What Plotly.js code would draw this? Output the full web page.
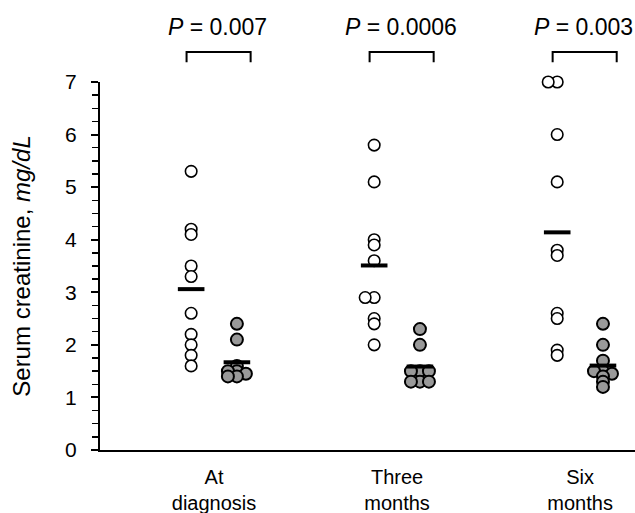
<!DOCTYPE html>
<html><head><meta charset="utf-8">
<script src="https://cdn.plot.ly/plotly-3.0.1.min.js"></script>
<style>body{margin:0;background:#fff}</style>
</head><body><div id="chart" style="width:635px;height:513px"></div>
<script>
// ---- data ----
const categories = ["At<br>diagnosis", "Three<br>months", "Six<br>months"];
const pValues = ["0.007", "0.0006", "0.003"];
const openAtDiagnosis   = [5.3, 4.2, 4.1, 3.5, 3.3, 2.6, 2.2, 2.0, 1.8, 1.6];
const filledAtDiagnosis = [2.4, 2.1, 1.6, 1.5, 1.5, 1.45, 1.4, 1.4];
const openThreeMonths   = [5.8, 5.1, 4.0, 3.9, 3.6, 2.9, 2.9, 2.5, 2.4, 2.0];
const filledThreeMonths = [2.3, 2.0, 1.5, 1.5, 1.5, 1.3, 1.3, 1.3];
const openSixMonths     = [7.0, 7.0, 6.0, 5.1, 3.8, 3.7, 2.6, 2.5, 1.9, 1.8];
const filledSixMonths   = [2.4, 2.0, 1.7, 1.5, 1.5, 1.45, 1.4, 1.3, 1.2];

const openGroups = [openAtDiagnosis, openThreeMonths, openSixMonths];
const filledGroups = [filledAtDiagnosis, filledThreeMonths, filledSixMonths];

// ---- layout geometry ----
const W = 635, H = 513;
const M = {l: 100, r: 0, t: 82, b: 63};
const xRange = [0.377, 3.30];
const yRange = [0, 7];
const pxPerX = (W - M.l - M.r) / (xRange[1] - xRange[0]);
const pxPerY = (H - M.t - M.b) / (yRange[1] - yRange[0]);
const groupOffset = 0.125;

// simple beeswarm: shift a point sideways only when it nearly coincides with one already placed
function swarm(values, base) {
  const placed = [];
  const D = 4.5, step = 9;
  return values.map(v => {
    const cands = [0];
    for (let k = 1; k < 6; k++) { cands.push(-k * step, k * step); }
    let chosen = 0;
    for (const c of cands) {
      const ok = placed.every(p => Math.hypot(p.x - c, (p.v - v) * pxPerY) >= D);
      if (ok) { chosen = c; break; }
    }
    placed.push({x: chosen, v: v});
    return base + chosen / pxPerX;
  });
}
const mean = a => a.reduce((s, v) => s + v, 0) / a.length;

const traces = [];
openGroups.forEach((vals, i) => {
  traces.push({
    type: 'scatter', mode: 'markers', cliponaxis: false, hoverinfo: 'y',
    x: swarm(vals, i + 1 - groupOffset), y: vals,
    marker: {symbol: 'circle', size: 11.5, color: '#ffffff', line: {color: '#000', width: 1.6}}
  });
});
filledGroups.forEach((vals, i) => {
  traces.push({
    type: 'scatter', mode: 'markers', cliponaxis: false, hoverinfo: 'y',
    x: swarm(vals, i + 1 + groupOffset), y: vals,
    marker: {symbol: 'circle', size: 12, color: '#999999', line: {color: '#000', width: 2}}
  });
});
const meanX = [], meanY = [];
openGroups.forEach((vals, i) => { meanX.push(i + 1 - groupOffset); meanY.push(mean(vals)); });
filledGroups.forEach((vals, i) => { meanX.push(i + 1 + groupOffset); meanY.push(mean(vals)); });
traces.push({
  type: 'scatter', mode: 'markers', cliponaxis: false, hoverinfo: 'y',
  x: meanX, y: meanY,
  marker: {symbol: 'line-ew', size: 19, color: '#000', line: {color: '#000', width: 4}}
});

const font = {family: 'Liberation Sans, Arial, Helvetica, sans-serif', color: '#000'};
const shapes = [], annotations = [];
categories.forEach((c, i) => {
  const x0 = i + 1 - 0.15, x1 = i + 1 + 0.2;
  shapes.push({
    type: 'path', xref: 'x', yref: 'paper',
    path: `M ${x0},1.054 L ${x0},1.0815 L ${x1},1.0815 L ${x1},1.054`,
    line: {color: '#000', width: 2}
  });
  annotations.push({
    xref: 'x', yref: 'paper', x: i + 1 + 0.02, y: 1.149, yanchor: 'middle', xanchor: 'center',
    showarrow: false, text: '<i>P</i> = ' + pValues[i], font: Object.assign({size: 23}, font)
  });
});

const layout = {
  width: W, height: H, margin: M,
  paper_bgcolor: '#fff', plot_bgcolor: '#fff',
  showlegend: false, font: font,
  xaxis: {
    range: xRange, showgrid: false, zeroline: false, showline: true, linecolor: '#000', linewidth: 2,
    tickvals: [1, 2, 3], ticktext: categories, ticks: '', ticklabelstandoff: 8,
    tickfont: Object.assign({size: 20}, font), fixedrange: true
  },
  yaxis: {
    range: yRange, showgrid: false, zeroline: false, showline: true, linecolor: '#000', linewidth: 2,
    dtick: 1, tick0: 0, ticks: 'outside', ticklen: 7, tickwidth: 2, tickcolor: '#000',
    minor: {dtick: 0.25, ticks: 'outside', ticklen: 6, tickwidth: 1.5, tickcolor: '#000'},
    ticklabelstandoff: 10, tickfont: Object.assign({size: 21}, font),
    title: {text: 'Serum creatinine, <i>mg/dL</i>', font: Object.assign({size: 24}, font), standoff: 28},
    automargin: false, fixedrange: true
  },
  shapes: shapes, annotations: annotations
};
Plotly.newPlot('chart', traces, layout, {displayModeBar: false, staticPlot: true});
</script>
</body></html>
